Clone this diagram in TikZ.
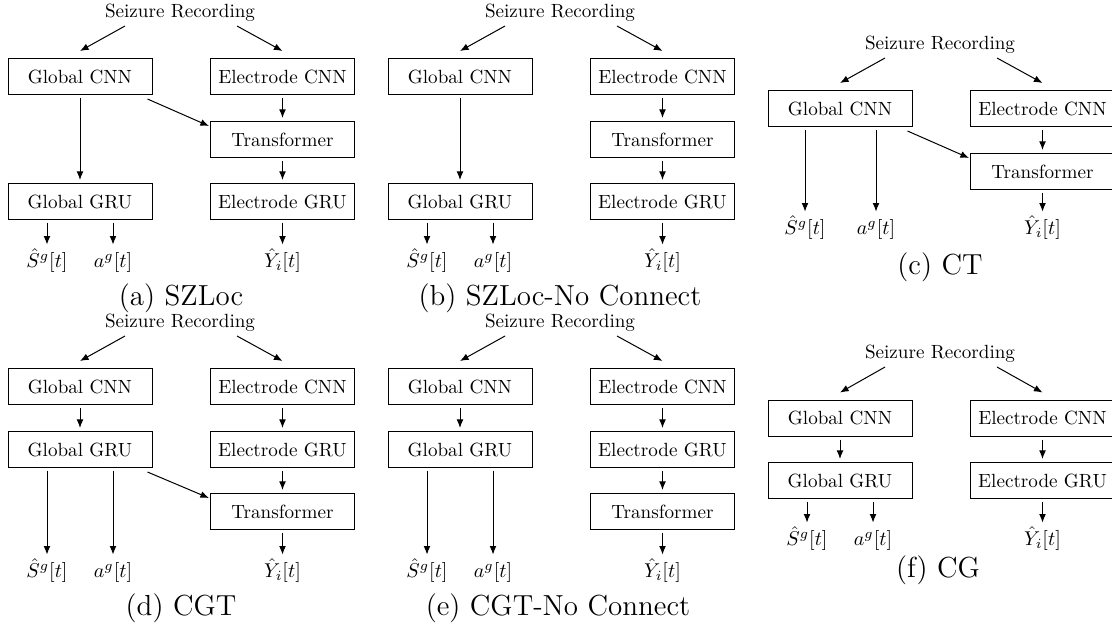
\documentclass[tikz,border=0pt]{standalone}
\usetikzlibrary{arrows.meta,calc}
\newcommand\dgmfnt{\fontsize{9.55}{11}\selectfont}
\newcommand\capfnt{\fontsize{14.5}{17}\selectfont}
\tikzset{
  box/.style={draw, line width=0.5pt, minimum width=72pt, minimum height=18pt, inner sep=0pt, font=\dgmfnt},
  srec/.style={inner sep=0pt, font=\dgmfnt},
  lbl/.style={font=\dgmfnt, inner sep=0pt, text height=8pt, text depth=2.5pt},
  captxt/.style={font=\capfnt, inner sep=0pt},
  arr/.style={-{Latex[length=4.3pt,width=3.4pt]}, line width=0.5pt},
  varr/.style={arr, shorten <=1.5pt, shorten >=1.5pt},
  oarr/.style={arr, shorten <=1.25pt, shorten >=3.25pt},
}
\begin{document}
\begin{tikzpicture}[x=0.5pt,y=-0.5pt]
\useasboundingbox (0,0) rectangle (1112,628);

% ---------------- (a) SZLoc ----------------
\node[srec] (a-sr) at (180,13) {Seizure Recording};
\node[box] (a-gc) at (80,76.5) {Global CNN};
\node[box] (a-ec) at (282.5,76.5) {Electrode CNN};
\node[box] (a-tr) at (282.5,139.5) {Transformer};
\node[box] (a-gg) at (80,201.5) {Global GRU};
\node[box] (a-eg) at (282.5,201.5) {Electrode GRU};
\node[lbl] (a-s) at (47,262) {$\hat{S}^g[t]$};
\node[lbl] (a-a) at (113,262) {$a^g[t]$};
\node[lbl] (a-y) at (282.5,262) {$\hat{Y}_i[t]$};
\node[captxt] (a-cap) at (181,298) {(a) SZLoc};
\draw[arr] ($(a-sr.center)+(-55,13)$) -- ($(a-gc.north)+(0,-7)$);
\draw[arr] ($(a-sr.center)+(57,13)$) -- ($(a-ec.north)+(0,-7)$);
\draw[varr] (a-gc) -- (a-gg);
\draw[varr] (a-ec) -- (a-tr);
\draw[varr] (a-tr) -- (a-eg);
\draw[arr] ($(a-gc.south east)+(-5,4)$) -- ($(a-tr.north west)+(-1,5)$);
\draw[oarr] (a-s.north |- a-gg.south) -- (a-s.north);
\draw[oarr] (a-a.north |- a-gg.south) -- (a-a.north);
\draw[oarr] (a-y.north |- a-eg.south) -- (a-y.north);

% ---------------- (b) SZLoc-No Connect ----------------
\node[srec] (b-sr) at (560,13) {Seizure Recording};
\node[box] (b-gc) at (460,76.5) {Global CNN};
\node[box] (b-ec) at (662.5,76.5) {Electrode CNN};
\node[box] (b-tr) at (662.5,139.5) {Transformer};
\node[box] (b-gg) at (460,201.5) {Global GRU};
\node[box] (b-eg) at (662.5,201.5) {Electrode GRU};
\node[lbl] (b-s) at (427,262) {$\hat{S}^g[t]$};
\node[lbl] (b-a) at (493,262) {$a^g[t]$};
\node[lbl] (b-y) at (662.5,262) {$\hat{Y}_i[t]$};
\node[captxt] (b-cap) at (560,298) {(b) SZLoc-No Connect};
\draw[arr] ($(b-sr.center)+(-55,13)$) -- ($(b-gc.north)+(0,-7)$);
\draw[arr] ($(b-sr.center)+(57,13)$) -- ($(b-ec.north)+(0,-7)$);
\draw[varr] (b-gc) -- (b-gg);
\draw[varr] (b-ec) -- (b-tr);
\draw[varr] (b-tr) -- (b-eg);
\draw[oarr] (b-s.north |- b-gg.south) -- (b-s.north);
\draw[oarr] (b-a.north |- b-gg.south) -- (b-a.north);
\draw[oarr] (b-y.north |- b-eg.south) -- (b-y.north);

% ---------------- (c) CT ----------------
\node[srec] (c-sr) at (940,45) {Seizure Recording};
\node[box] (c-gc) at (840,108.5) {Global CNN};
\node[box] (c-ec) at (1042.5,108.5) {Electrode CNN};
\node[box] (c-tr) at (1042.5,171.5) {Transformer};
\node[lbl] (c-s) at (805,229) {$\hat{S}^g[t]$};
\node[lbl] (c-a) at (876,229) {$a^g[t]$};
\node[lbl] (c-y) at (1042.5,229) {$\hat{Y}_i[t]$};
\node[captxt] (c-cap) at (940,267) {(c) CT};
\draw[arr] ($(c-sr.center)+(-55,13)$) -- ($(c-gc.north)+(0,-7)$);
\draw[arr] ($(c-sr.center)+(57,13)$) -- ($(c-ec.north)+(0,-7)$);
\draw[varr] (c-ec) -- (c-tr);
\draw[arr] ($(c-gc.south east)+(-5,4)$) -- ($(c-tr.north west)+(-1,5)$);
\draw[oarr] (c-s.north |- c-gc.south) -- (c-s.north);
\draw[oarr] (c-a.north |- c-gc.south) -- (c-a.north);
\draw[oarr] (c-y.north |- c-tr.south) -- (c-y.north);

% ---------------- (d) CGT ----------------
\node[srec] (d-sr) at (180,323) {Seizure Recording};
\node[box] (d-gc) at (80,386.5) {Global CNN};
\node[box] (d-ec) at (282.5,386.5) {Electrode CNN};
\node[box] (d-gg) at (80,449.5) {Global GRU};
\node[box] (d-eg) at (282.5,449.5) {Electrode GRU};
\node[box] (d-tr) at (282.5,511.5) {Transformer};
\node[lbl] (d-s) at (47,572) {$\hat{S}^g[t]$};
\node[lbl] (d-a) at (113,572) {$a^g[t]$};
\node[lbl] (d-y) at (282.5,572) {$\hat{Y}_i[t]$};
\node[captxt] (d-cap) at (181,608) {(d) CGT};
\draw[arr] ($(d-sr.center)+(-55,13)$) -- ($(d-gc.north)+(0,-7)$);
\draw[arr] ($(d-sr.center)+(57,13)$) -- ($(d-ec.north)+(0,-7)$);
\draw[varr] (d-gc) -- (d-gg);
\draw[varr] (d-ec) -- (d-eg);
\draw[varr] (d-eg) -- (d-tr);
\draw[arr] ($(d-gg.south east)+(-5,4)$) -- ($(d-tr.north west)+(-1,5)$);
\draw[oarr] (d-s.north |- d-gg.south) -- (d-s.north);
\draw[oarr] (d-a.north |- d-gg.south) -- (d-a.north);
\draw[oarr] (d-y.north |- d-tr.south) -- (d-y.north);

% ---------------- (e) CGT-No Connect ----------------
\node[srec] (e-sr) at (560,323) {Seizure Recording};
\node[box] (e-gc) at (460,386.5) {Global CNN};
\node[box] (e-ec) at (662.5,386.5) {Electrode CNN};
\node[box] (e-gg) at (460,449.5) {Global GRU};
\node[box] (e-eg) at (662.5,449.5) {Electrode GRU};
\node[box] (e-tr) at (662.5,511.5) {Transformer};
\node[lbl] (e-s) at (427,572) {$\hat{S}^g[t]$};
\node[lbl] (e-a) at (493,572) {$a^g[t]$};
\node[lbl] (e-y) at (662.5,572) {$\hat{Y}_i[t]$};
\node[captxt] (e-cap) at (558,608) {(e) CGT-No Connect};
\draw[arr] ($(e-sr.center)+(-55,13)$) -- ($(e-gc.north)+(0,-7)$);
\draw[arr] ($(e-sr.center)+(57,13)$) -- ($(e-ec.north)+(0,-7)$);
\draw[varr] (e-gc) -- (e-gg);
\draw[varr] (e-ec) -- (e-eg);
\draw[varr] (e-eg) -- (e-tr);
\draw[oarr] (e-s.north |- e-gg.south) -- (e-s.north);
\draw[oarr] (e-a.north |- e-gg.south) -- (e-a.north);
\draw[oarr] (e-y.north |- e-tr.south) -- (e-y.north);

% ---------------- (f) CG ----------------
\node[srec] (f-sr) at (940,354) {Seizure Recording};
\node[box] (f-gc) at (840,418) {Global CNN};
\node[box] (f-ec) at (1042.5,418) {Electrode CNN};
\node[box] (f-gg) at (840,480.5) {Global GRU};
\node[box] (f-eg) at (1042.5,480.5) {Electrode GRU};
\node[lbl] (f-s) at (807,540) {$\hat{S}^g[t]$};
\node[lbl] (f-a) at (873,540) {$a^g[t]$};
\node[lbl] (f-y) at (1042.5,540) {$\hat{Y}_i[t]$};
\node[captxt] (f-cap) at (938,570) {(f) CG};
\draw[arr] ($(f-sr.center)+(-55,13)$) -- ($(f-gc.north)+(0,-7)$);
\draw[arr] ($(f-sr.center)+(57,13)$) -- ($(f-ec.north)+(0,-7)$);
\draw[varr] (f-gc) -- (f-gg);
\draw[varr] (f-ec) -- (f-eg);
\draw[oarr] (f-s.north |- f-gg.south) -- (f-s.north);
\draw[oarr] (f-a.north |- f-gg.south) -- (f-a.north);
\draw[oarr] (f-y.north |- f-eg.south) -- (f-y.north);
\end{tikzpicture}
\end{document}
